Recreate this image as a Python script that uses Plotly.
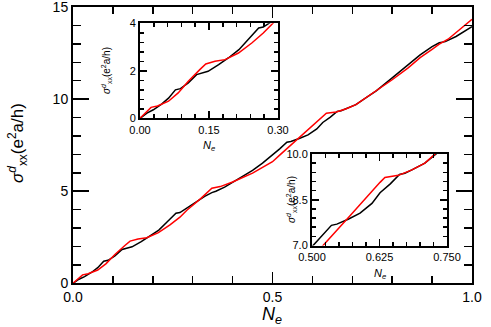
import plotly.graph_objects as go

# ---- data ----
black_x = [0, 0.015, 0.029, 0.047, 0.062, 0.077, 0.088, 0.105, 0.123, 0.135, 0.148, 0.171, 0.192,
           0.215, 0.235, 0.258, 0.268, 0.29, 0.31, 0.33, 0.348, 0.358, 0.38, 0.40, 0.425, 0.45,
           0.475, 0.5, 0.518, 0.536, 0.546, 0.567, 0.589, 0.611, 0.626, 0.645, 0.662, 0.672,
           0.685, 0.709, 0.731, 0.76, 0.8, 0.84, 0.87, 0.9, 0.918, 0.933, 0.96, 1.0]
black_y = [0, 0.22, 0.36, 0.6, 0.85, 1.2, 1.25, 1.49, 1.84, 1.92, 1.98, 2.26, 2.54,
           2.89, 3.31, 3.8, 3.84, 4.15, 4.45, 4.72, 4.92, 5.0, 5.22, 5.48, 5.8, 6.13,
           6.52, 6.96, 7.3, 7.66, 7.7, 7.86, 8.06, 8.38, 8.73, 9.02, 9.33, 9.37,
           9.48, 9.7, 10.02, 10.45, 11.15, 11.85, 12.4, 12.85, 13.06, 13.12, 13.4, 13.93]

red_x = [0, 0.024, 0.038, 0.062, 0.083, 0.105, 0.13, 0.143, 0.163, 0.185, 0.214, 0.243, 0.268,
         0.286, 0.32, 0.348, 0.369, 0.40, 0.45, 0.5, 0.518, 0.57, 0.626, 0.635, 0.66, 0.685,
         0.709, 0.731, 0.76, 0.8, 0.84, 0.87, 0.9, 0.918, 0.94, 0.97, 1.0]
red_y = [0, 0.46, 0.52, 0.72, 1.07, 1.56, 2.05, 2.29, 2.4, 2.47, 2.75, 3.17, 3.59,
         3.98, 4.6, 5.16, 5.25, 5.5, 5.98, 6.6, 6.96, 7.97, 9.07, 9.23, 9.3, 9.48,
         9.7, 10.02, 10.45, 11.05, 11.7, 12.25, 12.7, 12.98, 13.25, 13.8, 14.33]

W, H = 491, 327
FONT = "Liberation Sans, Arial, sans-serif"

fig = go.Figure()
for xa, ya in [("x", "y"), ("x2", "y2"), ("x3", "y3")]:
    fig.add_trace(go.Scatter(x=black_x, y=black_y, mode="lines", xaxis=xa, yaxis=ya,
                             line=dict(color="black", width=1.5), showlegend=False,
                             hoverinfo="skip"))
    fig.add_trace(go.Scatter(x=red_x, y=red_y, mode="lines", xaxis=xa, yaxis=ya,
                             line=dict(color="#ff0000", width=1.5), showlegend=False,
                             hoverinfo="skip"))


def px_x(p):
    return p / W


def px_y(p):
    return (H - p) / H


def axis(rng, dtick, minor, fmt, dom, anchor, ticklen, minorlen, fsize, lw=2):
    return dict(range=rng, domain=dom, anchor=anchor, dtick=dtick, tick0=rng[0],
                tickformat=fmt, ticks="inside", ticklen=ticklen, tickwidth=1.5,
                tickcolor="black", showline=True, linecolor="black", linewidth=lw,
                mirror="ticks", showgrid=False, zeroline=False, automargin=False,
                ticklabeloverflow="allow", fixedrange=True,
                tickfont=dict(family=FONT, size=fsize, color="black"),
                minor=dict(dtick=minor, tick0=rng[0], ticks="inside", ticklen=minorlen,
                           tickwidth=1.5, tickcolor="black", showgrid=False))


fig.update_layout(
    width=W, height=H, margin=dict(l=0, r=0, t=0, b=0, autoexpand=False),
    paper_bgcolor="white", plot_bgcolor="white",
    xaxis=axis([0, 1], 0.5, 0.1, ".1f", [px_x(73), px_x(472)], "y", 11, 7, 14),
    yaxis=axis([0, 15], 5, 1, "d", [px_y(283.3), px_y(7)], "x", 16, 8, 14),
    xaxis2=axis([0, 0.3], 0.15, 0.03, ".2f", [px_x(140), px_x(278)], "y2", 7, 4, 11),
    yaxis2=axis([0, 4], 2, 0.4, "d", [px_y(118.3), px_y(23.3)], "x2", 7, 4, 11),
    xaxis3=axis([0.5, 0.75], 0.125, 0.025, ".3f", [px_x(312), px_x(447)], "y3", 7, 4, 11),
    yaxis3=axis([7, 10], 1.5, 0.3, ".1f", [px_y(245.5), px_y(154)], "x3", 7, 4, 11),
)

ann = [
    dict(text="<i>N<sub>e</sub></i>", x=px_x(272), y=px_y(315), size=18, angle=0),
    dict(text="<i>σ</i><sup><i>d</i></sup><sub>xx</sub>(e<sup>2</sup>a/h)", x=px_x(17),
         y=px_y(143), size=17, angle=-90),
    dict(text="<i>N<sub>e</sub></i>", x=px_x(209), y=px_y(146), size=11, angle=0),
    dict(text="<i>σ</i><sup><i>d</i></sup><sub>xx</sub>(e<sup>2</sup>a/h)", x=px_x(106),
         y=px_y(71), size=10, angle=-90),
    dict(text="<i>N<sub>e</sub></i>", x=px_x(380), y=px_y(274), size=11, angle=0),
    dict(text="<i>σ</i><sup><i>d</i></sup><sub>xx</sub>(e<sup>2</sup>a/h)", x=px_x(291),
         y=px_y(200), size=10, angle=-90),
]
for a in ann:
    fig.add_annotation(text=a["text"], x=a["x"], y=a["y"], xref="paper", yref="paper",
                       showarrow=False, textangle=a["angle"], xanchor="center", yanchor="middle",
                       font=dict(family=FONT, size=a["size"], color="black"))

fig.write_html("out.html", config={"displayModeBar": False, "staticPlot": True},
               post_script="document.body.style.margin='0px';document.body.style.overflow='hidden';")
